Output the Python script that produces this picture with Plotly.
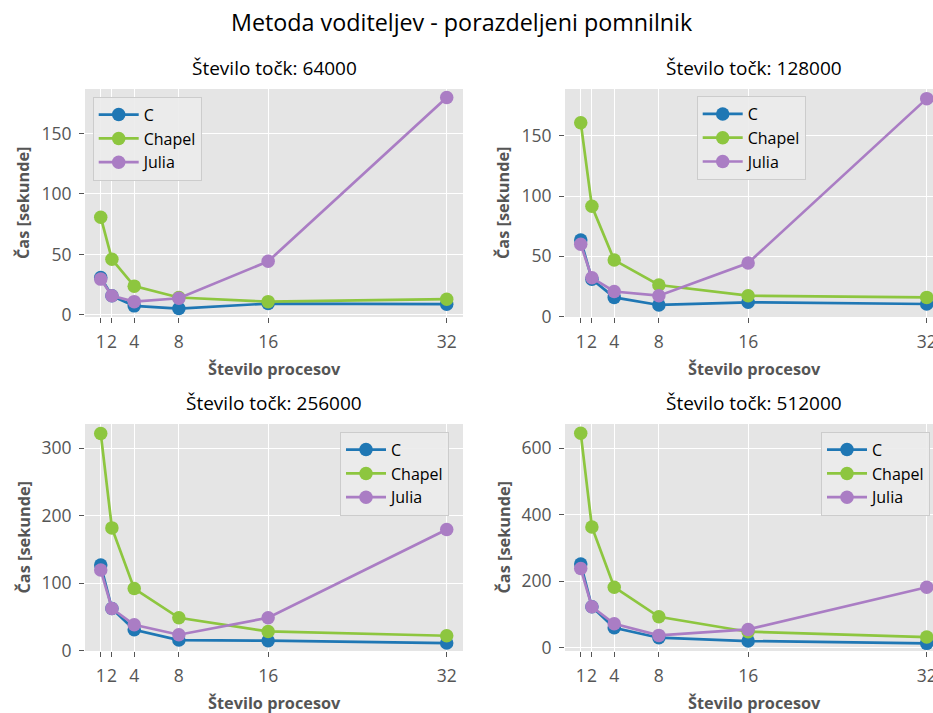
import plotly.graph_objects as go

W, H = 933, 713

procs = [1, 2, 4, 8, 16, 32]
series_names = ["C", "Chapel", "Julia"]
colors = ["#1f77b4", "#8dc63f", "#aa7dc4"]

panel_titles = ["Število točk: 64000", "Število točk: 128000",
                "Število točk: 256000", "Število točk: 512000"]

c_64k = [31, 15.8, 7.5, 5.3, 9.4, 8.9]
chapel_64k = [80.8, 46, 23.8, 14.4, 11, 13]
julia_64k = [29.6, 15.8, 11, 13.8, 44.3, 179.6]

c_128k = [63.4, 30.8, 15.8, 9.5, 11.7, 10.3]
chapel_128k = [161, 91.5, 46.8, 26.1, 17.2, 15.8]
julia_128k = [59.9, 32.1, 20.7, 17.2, 44.4, 181]

c_256k = [126.9, 62.5, 31, 15.7, 14.8, 11.3]
chapel_256k = [322, 182, 92, 48.7, 28.5, 22.1]
julia_256k = [119.5, 62.5, 38.4, 23.6, 48.7, 179.6]

c_512k = [252, 123, 60, 30, 20, 13]
chapel_512k = [645, 363, 182, 93, 48, 32]
julia_512k = [238, 123, 72, 37, 55, 182]

panels = [
    [c_64k, chapel_64k, julia_64k],
    [c_128k, chapel_128k, julia_128k],
    [c_256k, chapel_256k, julia_256k],
    [c_512k, chapel_512k, julia_512k],
]

y_ticks = [[0, 50, 100, 150], [0, 50, 100, 150],
           [0, 100, 200, 300], [0, 200, 400, 600]]
y_ranges = [[-1.7, 186.7], [-0.5, 189], [-0.5, 336], [-10, 673]]

# pixel boxes (left, right, top, bottom)
boxes = [(85, 463, 89, 317), (565, 933, 89, 317),
         (85, 463, 424, 651), (565, 933, 424, 651)]
x_px_per_unit = 378 / 33.87
x_left = -0.41

FONT = "Open Sans"
GRAY = "#555555"

fig = go.Figure()
layout = dict(
    width=W, height=H,
    margin=dict(l=0, r=0, t=0, b=0, autoexpand=False),
    paper_bgcolor="white",
    plot_bgcolor="#E5E5E5",
    font=dict(family=FONT, color=GRAY),
    annotations=[],
)

legend_pos = [(92.7, 96.7), (696.7, 96), (340, 431.7), (821, 431.7)]

for i in range(4):
    l, r, t, b = boxes[i]
    suffix = "" if i == 0 else str(i + 1)
    xa, ya = "x" + suffix, "y" + suffix
    leg = "legend" + suffix
    for k in range(3):
        fig.add_trace(go.Scatter(
            x=procs, y=panels[i][k], name=series_names[k],
            mode="lines+markers",
            line=dict(color=colors[k], width=2.7),
            marker=dict(color=colors[k], size=13.5),
            xaxis=xa, yaxis=ya, legend=leg, cliponaxis=False,
        ))
    x1 = x_left + (r - l) / x_px_per_unit
    layout["xaxis" + suffix] = dict(
        domain=[l / W, r / W], anchor=ya, range=[x_left, x1],
        tickvals=procs, ticktext=[str(p) for p in procs], tickangle=0,
        ticks="outside", ticklen=5, tickwidth=1.2, tickcolor=GRAY,
        showgrid=True, gridcolor="white", gridwidth=1.4,
        zeroline=False, showline=False, ticklabeloverflow="allow",
        ticklabelstandoff=4,
        tickfont=dict(family=FONT, size=17.5, color=GRAY),
    )
    layout["yaxis" + suffix] = dict(
        domain=[1 - b / H, 1 - t / H], anchor=xa, range=y_ranges[i],
        tickvals=y_ticks[i],
        ticks="outside", ticklen=5, tickwidth=1.2, tickcolor=GRAY,
        showgrid=True, gridcolor="white", gridwidth=1.4,
        zeroline=False, showline=False, ticklabelstandoff=4,
        tickfont=dict(family=FONT, size=17.5, color=GRAY),
    )
    lx, ly = legend_pos[i]
    layout[leg] = dict(
        x=lx / W, y=1 - ly / H, xanchor="left", yanchor="top",
        xref="paper", yref="paper",
        bgcolor="rgba(235,235,235,0.9)", bordercolor="#cccccc", borderwidth=1,
        font=dict(family=FONT, size=16, color="black"),
        itemwidth=40,
    )
    cx = (l + (l + 378)) / 2
    cy = (t + b) / 2
    # subplot title
    layout["annotations"].append(dict(
        text=panel_titles[i], x=cx / W, y=1 - (t - 21) / H,
        xref="paper", yref="paper", showarrow=False,
        xanchor="center", yanchor="middle",
        font=dict(family=FONT, size=19, color="black")))
    # x axis title
    layout["annotations"].append(dict(
        text="<b>Število procesov</b>", x=cx / W, y=1 - (b + 52) / H,
        xref="paper", yref="paper", showarrow=False,
        xanchor="center", yanchor="middle",
        font=dict(family=FONT, size=16.3, color=GRAY)))
    # y axis title
    layout["annotations"].append(dict(
        text="<b>Čas [sekunde]</b>", x=(l - 62) / W, y=1 - cy / H,
        xref="paper", yref="paper", showarrow=False, textangle=-90,
        xanchor="center", yanchor="middle",
        font=dict(family=FONT, size=16.3, color=GRAY)))

layout["annotations"].append(dict(
    text="Metoda voditeljev - porazdeljeni pomnilnik", x=462 / W, y=1 - 22 / H,
    xref="paper", yref="paper", showarrow=False,
    xanchor="center", yanchor="middle",
    font=dict(family=FONT, size=23.3, color="black")))

fig.update_layout(**layout)
fig.write_html("out.html", config={"displayModeBar": False},
               post_script="document.body.style.margin='0';document.body.style.overflow='hidden';")
